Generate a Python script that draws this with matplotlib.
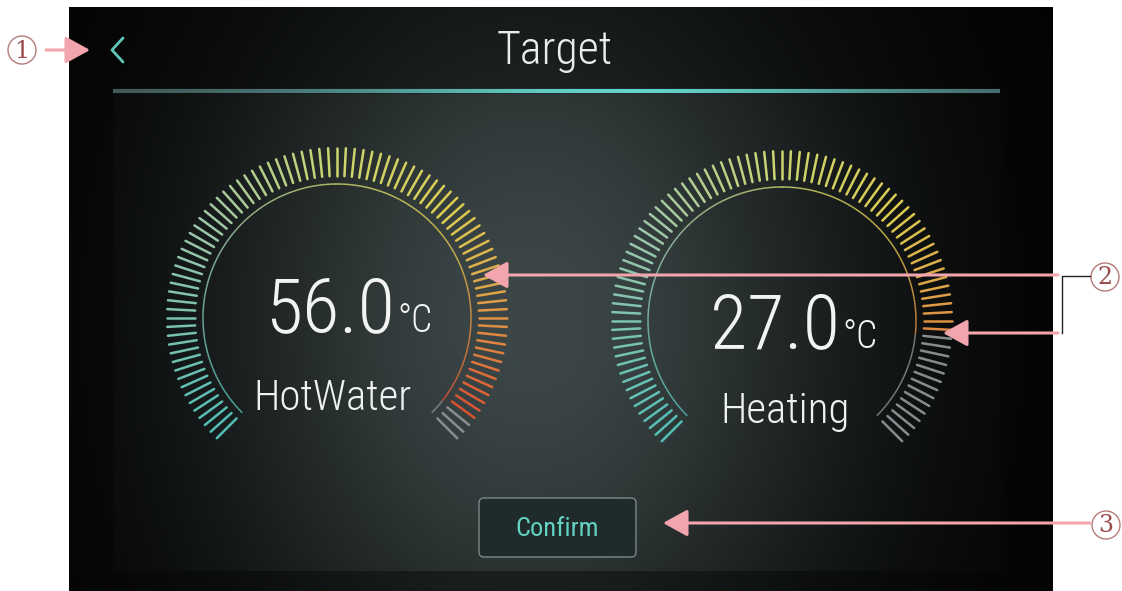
import numpy as np
import matplotlib.pyplot as plt
from matplotlib.collections import LineCollection
from matplotlib.colors import LinearSegmentedColormap, to_rgb
from matplotlib.patches import FancyBboxPatch, Circle

# screen content
title = 'Target'
gauge_names = ['HotWater', 'Heating']
gauge_values = [56.0, 27.0]
gauge_min = [20.0, 10.0]
gauge_max = [57.0, 30.0]
unit = '°C'
button_text = 'Confirm'
callout_numbers = ['1', '2', '3']

n_ticks = 91
thin = ['Roboto Condensed', 'Lato', 'DejaVu Sans']

arc_cmap = LinearSegmentedColormap.from_list(
    'arc', [(0.0, '#55c6be'), (0.3, '#a6cfb0'), (0.5, '#d6e072'), (0.68, '#e6d452'),
            (0.8, '#eaa84a'), (0.9, '#e8783c'), (1.0, '#e0402e')])
off_col = '#8d9394'
pink = '#f2a5ad'

fig = plt.figure(figsize=(11.22, 5.91), dpi=100)
fig.patch.set_facecolor('white')
ax = fig.add_axes([0, 0, 1, 1])
ax.set_xlim(0, 1122)
ax.set_ylim(591, 0)
ax.axis('off')

# dark panel with soft glow in the middle
yy, xx = np.mgrid[7:591, 69:1053]
glow = np.exp(-((xx - 530) / 320.0) ** 2 - ((yy - 320) / 420.0) ** 2)
inner = (xx >= 113) & (xx <= 1000) & (yy >= 94) & (yy <= 570)
lvl = glow * np.where(inner, 1.0, 0.6)
img = lvl[..., None] * np.array([0.23, 0.27, 0.27]) + 0.008
ax.imshow(np.clip(img, 0, 1), extent=[69, 1053, 591, 7], zorder=0, aspect='auto')

# header
ax.text(555, 64, title, color='#e8eeee', fontsize=33, ha='center', va='baseline',
        family=thin, fontweight='light')
ax.plot([123, 112, 123], [38, 50, 62], color='#5fc8b8', lw=2, solid_capstyle='round')
hx = np.linspace(113, 1000, 300)
pts = np.column_stack([hx, np.full_like(hx, 91)])
segs = np.stack([pts[:-1], pts[1:]], axis=1)
w = np.exp(-((hx[:-1] - 620) / 300.0) ** 2)[:, None]
hcol = (1 - w) * np.array(to_rgb('#3f5252')) + w * np.array(to_rgb('#62d2ca'))
ax.add_collection(LineCollection(segs, colors=hcol, linewidths=3))

# gauges
centers = [(337, 318), (782, 321)]
value_dy = [14, 27]
label_pos = [(333, 410), (785, 423)]
r_out, r_in, r_arc = 170, 142, 134
for i, (name, val, lo, hi) in enumerate(zip(gauge_names, gauge_values, gauge_min, gauge_max)):
    cx, cy = centers[i]
    frac_val = (val - lo) / (hi - lo)
    fr = np.linspace(0, 1, n_ticks)
    ang = np.radians(225 - 270 * fr)
    p0 = np.column_stack([cx + r_in * np.cos(ang), cy - r_in * np.sin(ang)])
    p1 = np.column_stack([cx + r_out * np.cos(ang), cy - r_out * np.sin(ang)])
    cols = [arc_cmap(f) if f <= frac_val else to_rgb(off_col) for f in fr]
    ax.add_collection(LineCollection(np.stack([p0, p1], axis=1), colors=cols,
                                     linewidths=1.8, capstyle='round', alpha=0.95))
    # thin inner arc
    fa = np.linspace(0, 1, 200)
    aa = np.radians(225 - 270 * fa)
    ap = np.column_stack([cx + r_arc * np.cos(aa), cy - r_arc * np.sin(aa)])
    acol = [arc_cmap(f) if f <= frac_val else to_rgb(off_col) for f in fa[:-1]]
    ax.add_collection(LineCollection(np.stack([ap[:-1], ap[1:]], axis=1), colors=acol,
                                     linewidths=1.1, alpha=0.8))
    # value and label
    ax.text(cx + 58, cy + value_dy[i], f'{val:.1f}', color='#f2f4f4', fontsize=55,
            ha='right', va='baseline', family=thin, fontweight='light')
    ax.text(cx + 60, cy + value_dy[i], unit, color='#f2f4f4', fontsize=27, ha='left',
            va='baseline', family=thin, fontweight='light')
    lx, ly = label_pos[i]
    ax.text(lx, ly, name, color='#eef2f2', fontsize=31, ha='center',
            va='baseline', family=thin, fontweight='light')

# confirm button
ax.add_patch(FancyBboxPatch((479, 498), 157, 59, boxstyle='round,pad=0,rounding_size=5',
                            facecolor='#1f2a2b', edgecolor='#7a8986', lw=1.0))
ax.text(557, 529, button_text, color='#62d2c2', fontsize=19, ha='center', va='center',
        family=thin)

# call-out arrows
arrows = [((46, 50), (90, 50)), ((1058, 275), (483, 275)),
          ((1058, 333), (943, 333)), ((1090, 523), (663, 523))]
for (x0, y0), (x1, y1) in arrows:
    ax.annotate('', xy=(x1, y1), xytext=(x0, y0),
                arrowprops=dict(arrowstyle='-|>,head_length=1.0,head_width=0.55',
                                color=pink, lw=2.2, mutation_scale=15, shrinkA=0, shrinkB=0))
ax.plot([1090, 1062, 1062], [276, 276, 333], color='#222222', lw=1)

circ_pos = [(22, 50), (1105, 277), (1106, 525)]
for num, (px, py) in zip(callout_numbers, circ_pos):
    ax.add_patch(Circle((px, py), 14, facecolor='white', edgecolor='#b57a7a', lw=1))
    ax.text(px, py + 1, num, color='#9a4a4a', fontsize=17, ha='center', va='center',
            family='DejaVu Serif')

fig.savefig('out.png', dpi=100)
